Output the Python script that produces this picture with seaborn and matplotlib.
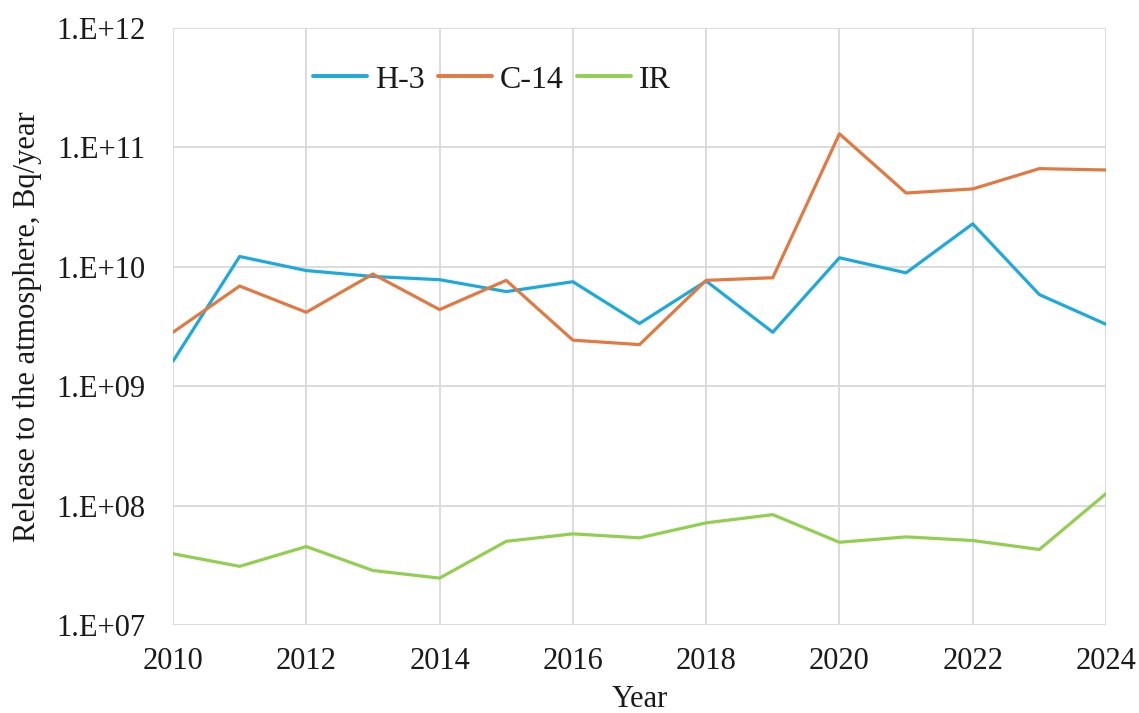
import numpy as np
import pandas as pd
import matplotlib
matplotlib.use("Agg")
import matplotlib.pyplot as plt
from matplotlib.ticker import FuncFormatter, FixedLocator, NullLocator
import seaborn as sns

years = list(range(2010, 2025))
h3 = [1.62e9, 1.22e10, 9.3e9, 8.3e9, 7.8e9, 6.2e9, 7.5e9, 3.35e9,
      7.6e9, 2.83e9, 1.19e10, 8.9e9, 2.29e10, 5.85e9, 3.3e9]
c14 = [2.83e9, 6.9e9, 4.16e9, 8.7e9, 4.38e9, 7.7e9, 2.43e9, 2.23e9,
       7.7e9, 8.1e9, 1.3e11, 4.15e10, 4.49e10, 6.64e10, 6.47e10]
ir = [3.95e7, 3.1e7, 4.54e7, 2.86e7, 2.47e7, 5.02e7, 5.8e7, 5.37e7,
      7.17e7, 8.4e7, 4.93e7, 5.47e7, 5.1e7, 4.29e7, 1.26e8]
series_names = ["H-3", "C-14", "IR"]
x_ticks = list(range(2010, 2025, 2))
y_ticks = [1e7, 1e8, 1e9, 1e10, 1e11, 1e12]

df = pd.DataFrame({
    "Year": years * 3,
    "Release": h3 + c14 + ir,
    "Nuclide": [n for n in series_names for _ in years],
})

sns.set_theme(style="white")
plt.rcParams["font.family"] = ["Liberation Serif", "DejaVu Serif"]

fig = plt.figure(figsize=(11.39, 7.13), dpi=100)
ax = fig.add_axes([173 / 1139, 1 - 625 / 713, (1106 - 173) / 1139, (625 - 28) / 713])

palette = {"H-3": "#1ea9dc", "C-14": "#e07a42", "IR": "#92cf50"}
sns.lineplot(data=df, x="Year", y="Release", hue="Nuclide", palette=palette,
             hue_order=series_names, linewidth=2.3, ax=ax, legend=True)

ax.set_yscale("log")
ax.set_ylim(1e7, 1e12)
ax.set_xlim(2010, 2024)
ax.xaxis.set_major_locator(FixedLocator(x_ticks))
ax.yaxis.set_major_locator(FixedLocator(y_ticks))
ax.yaxis.set_minor_locator(NullLocator())
ax.yaxis.set_major_formatter(
    FuncFormatter(lambda v, p: f"1.E+{int(round(np.log10(v))):02d}"))

ax.grid(True, which="major", color="#d9d9d9", linewidth=1.3)
ax.set_axisbelow(True)
for s in ax.spines.values():
    s.set_visible(False)

ax.tick_params(axis="both", length=0, colors="#1a1a1a")
ax.tick_params(axis="y", labelsize=22, pad=20)
ax.tick_params(axis="x", labelsize=22, pad=16)

ax.set_xlabel("Year", fontsize=22, color="#1a1a1a", labelpad=6)
ax.set_ylabel("Release to the atmosphere, Bq/year", fontsize=22,
              color="#1a1a1a", labelpad=10)

leg = ax.legend(loc="center", bbox_to_anchor=(0.342, 0.913), ncol=3,
                frameon=False, fontsize=23, handlelength=1.7,
                handletextpad=0.25, columnspacing=0.4, title=None)
for line in leg.get_lines():
    line.set_linewidth(2.8)
for t in leg.get_texts():
    t.set_color("#1a1a1a")

fig.savefig("out.png", dpi=100)
